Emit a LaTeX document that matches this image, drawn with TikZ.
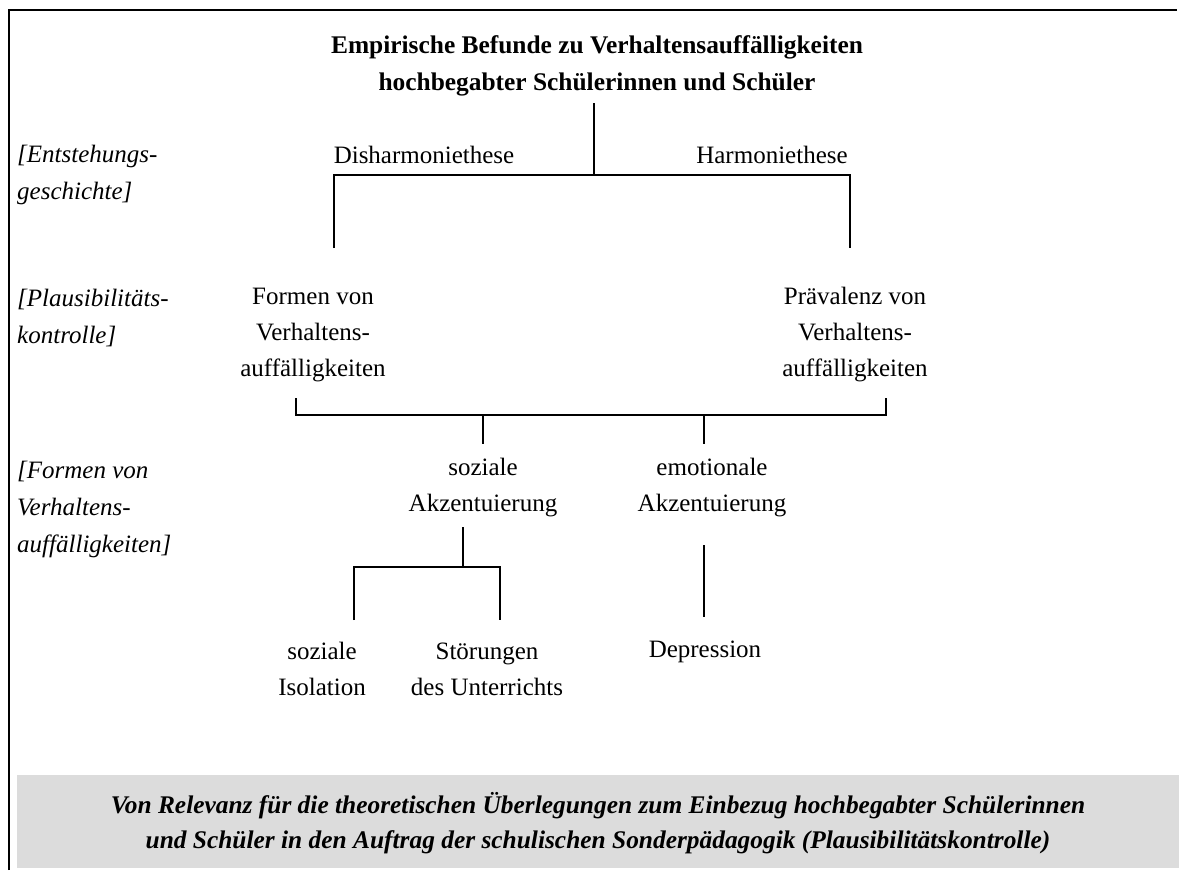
\documentclass[tikz,border=0pt]{standalone}
\usepackage{fontspec}
\setmainfont{Liberation Serif}
\definecolor{notegray}{HTML}{DCDCDC}
\begin{document}
\begin{tikzpicture}[x=1pt,y=-1pt,
  txt/.style={font=\fontsize{25}{36}\selectfont, align=center, inner sep=0pt},
  head/.style={font=\fontsize{25.4}{37}\selectfont\bfseries, align=center, inner sep=0pt},
  side/.style={font=\fontsize{25}{37}\selectfont\itshape, align=left, anchor=west, inner sep=0pt},
  note/.style={font=\fontsize{25.4}{35}\selectfont\bfseries\itshape, align=center, inner sep=0pt},
  tree/.style={line width=1.5pt},
  frame/.style={line width=2.8pt}]
\useasboundingbox (0,0) rectangle (1183,870);

% outer frame and shaded note strip
\draw[frame] (9,870) -- (9,10) -- (1177,10);
\fill[notegray] (17,775) rectangle (1179,868);

% row captions
\node[side] (capA) at (17,175) {[Entstehungs-\\geschichte]};
\node[side] (capB) at (17,318) {[Plausibilitäts-\\kontrolle]};
\node[side] (capC) at (17,509) {[Formen von\\Verhaltens-\\auffälligkeiten]};

% tree labels
\node[head] (title) at (597,66) {Empirische Befunde zu Verhaltensauffälligkeiten\\hochbegabter Schülerinnen und Schüler};
\node[txt] (dis) at (424,155) {Disharmoniethese};
\node[txt] (harm) at (772,155) {Harmoniethese};
\node[txt] (formen) at (313,335) {Formen von\\Verhaltens-\\auffälligkeiten};
\node[txt] (praev) at (855,335) {Prävalenz von\\Verhaltens-\\auffälligkeiten};
\node[txt] (sozA) at (483,488) {soziale\\Akzentuierung};
\node[txt] (emoA) at (712,488) {emotionale\\Akzentuierung};
\node[txt] (sozI) at (322,669) {soziale\\Isolation};
\node[txt] (stoer) at (487,669) {Störungen\\des Unterrichts};
\node[txt] (dep) at (705,652) {Depression};

% bracket points
\coordinate (t0) at (594,103);
\coordinate (t1) at (594,175);
\coordinate (h1) at (334,175);
\coordinate (h2) at (850,175);
\coordinate (h1e) at (334,248);
\coordinate (h2e) at (850,248);
\coordinate (b1) at (296,398);
\coordinate (b2) at (886,398);
\coordinate (b1c) at (296,415);
\coordinate (b2c) at (886,415);
\coordinate (s0) at (483,415);
\coordinate (s1) at (483,444);
\coordinate (e0) at (704,415);
\coordinate (e1) at (704,444);
\coordinate (k0) at (463,527);
\coordinate (k1) at (463,567);
\coordinate (k2) at (354,567);
\coordinate (k3) at (500,567);
\coordinate (k2e) at (354,620);
\coordinate (k3e) at (500,620);
\coordinate (d0) at (704,545);
\coordinate (d1) at (704,617);

% connectors
\draw[tree] (t0) -- (t1);
\draw[tree] (h1e) -- (h1) -- (h2) -- (h2e);
\draw[tree] (b1) -- (b1c) -- (b2c) -- (b2);
\draw[tree] (s0) -- (s1);
\draw[tree] (e0) -- (e1);
\draw[tree] (k0) -- (k1);
\draw[tree] (k2e) -- (k2) -- (k3) -- (k3e);
\draw[tree] (d0) -- (d1);

% note
\node[note] (rel) at (598,823) {Von Relevanz für die theoretischen Überlegungen zum Einbezug hochbegabter Schülerinnen\\und Schüler in den Auftrag der schulischen Sonderpädagogik (Plausibilitätskontrolle)};
\end{tikzpicture}
\end{document}
